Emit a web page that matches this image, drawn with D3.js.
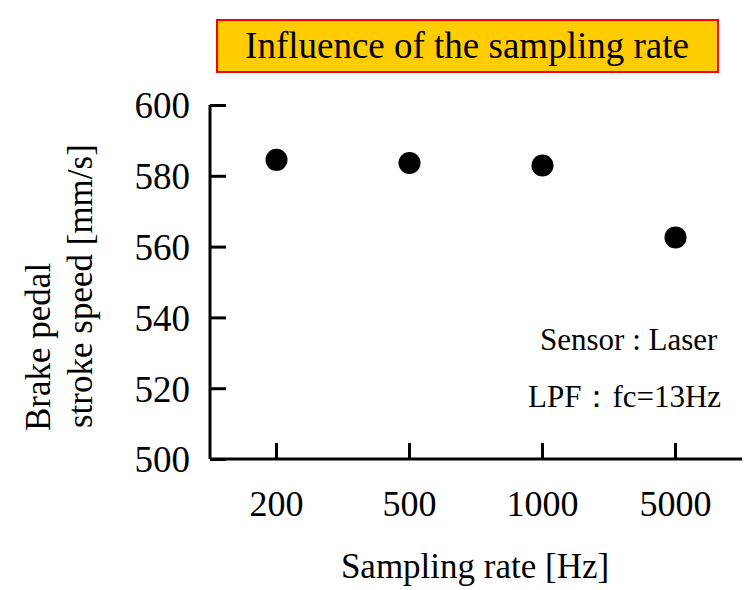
<!DOCTYPE html>
<html>
<head>
<meta charset="utf-8">
<script src="https://cdn.jsdelivr.net/npm/d3@7"></script>
<style>
  body { margin: 0; background: #fff; }
  text { font-family: "Liberation Serif", "Times New Roman", serif; fill: #000; }
</style>
</head>
<body>
<script>
const rates = ["200", "500", "1000", "5000"];
const speeds = [584.5, 583.6, 582.9, 562.6];
const yTicks = [500, 520, 540, 560, 580, 600];
const title = "Influence of the sampling rate";
const notes = ["Sensor : Laser", "LPF\uFF1Afc=13Hz"];

const W = 744, H = 590;
const svg = d3.select("body").append("svg")
  .attr("width", W)
  .attr("height", H);

const x = d3.scaleBand().domain(rates).range([210, 742]);
const y = d3.scaleLinear().domain([500, 600]).range([459, 105]);

// title box
svg.append("rect")
  .attr("x", 217).attr("y", 20)
  .attr("width", 501).attr("height", 52)
  .attr("fill", "#FFCC00")
  .attr("stroke", "#FF0000")
  .attr("stroke-width", 2);
svg.append("text")
  .attr("x", 467).attr("y", 58)
  .attr("text-anchor", "middle")
  .style("font-size", "37px")
  .text(title);

// y axis
const yAxis = svg.append("g")
  .attr("transform", "translate(210,0)")
  .call(d3.axisRight(y).tickValues(yTicks).tickSize(16).tickFormat(d3.format("d")));
yAxis.select(".domain").attr("stroke", "#000").attr("stroke-width", 3)
  .attr("d", "M0," + y(600) + "V" + y(500));
yAxis.selectAll(".tick line").attr("stroke", "#000").attr("stroke-width", 3);
yAxis.selectAll(".tick text")
  .attr("x", -20)
  .attr("dy", "0.35em")
  .attr("text-anchor", "end")
  .style("font-size", "37px");

// x axis
const xAxis = svg.append("g")
  .attr("transform", "translate(0," + y(500) + ")")
  .call(d3.axisTop(x).tickSize(16));
xAxis.select(".domain").attr("stroke", "#000").attr("stroke-width", 3)
  .attr("d", "M210,0H742");
xAxis.selectAll(".tick line").attr("stroke", "#000").attr("stroke-width", 3);
xAxis.selectAll(".tick text")
  .attr("y", 57)
  .attr("dy", 0)
  .style("font-size", "36px");

// points
svg.append("g").selectAll("circle")
  .data(rates.map((r, i) => ({ r, v: speeds[i] })))
  .join("circle")
  .attr("cx", d => x(d.r) + x.bandwidth() / 2)
  .attr("cy", d => y(d.v))
  .attr("r", 11)
  .attr("fill", "#000");

// axis titles
svg.append("text")
  .attr("x", 475).attr("y", 578)
  .attr("text-anchor", "middle")
  .style("font-size", "35px")
  .text("Sampling rate [Hz]");

const yl = svg.append("text")
  .attr("transform", "rotate(-90)")
  .attr("text-anchor", "start")
  .style("font-size", "35px");
yl.append("tspan").attr("x", -431).attr("y", 50).text("Brake pedal");
yl.append("tspan").attr("x", -428).attr("y", 92).text("stroke speed [mm/s]");

// notes
svg.append("text").attr("x", 540).attr("y", 350)
  .style("font-size", "31px").text(notes[0]);
svg.append("text").attr("x", 528).attr("y", 407)
  .style("font-size", "31px").text(notes[1]);
</script>
</body>
</html>
